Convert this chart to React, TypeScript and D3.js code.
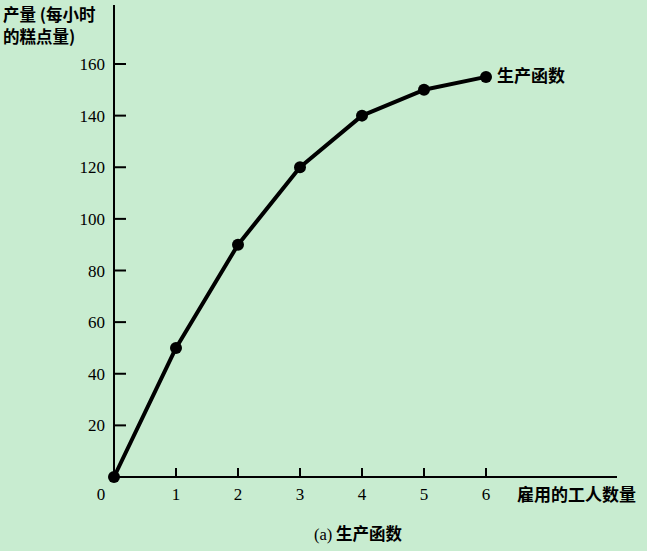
import * as d3 from 'd3';

const workers = [0, 1, 2, 3, 4, 5, 6];
const output = [0, 50, 90, 120, 140, 150, 155];
const yTicks = [20, 40, 60, 80, 100, 120, 140, 160];
const xTicks = [1, 2, 3, 4, 5, 6];

const W = 647;
const H = 551;
const cjk = '"Noto Sans CJK SC", sans-serif';
const serif = '"Liberation Serif", "DejaVu Serif", serif';

export default function App() {
  const x = d3.scaleLinear().domain([0, 6]).range([114, 486]);
  const y = d3.scaleLinear().domain([0, 160]).range([477, 64]);
  const line = d3.line<number>().x((_, i) => x(workers[i])).y(d => y(d));
  const x0 = x(0);
  const y0 = y(0);

  return (
    <svg width={W} height={H} style={{ position: 'absolute', left: 0, top: 0, background: '#c8ecd0' }}>
      <rect width={W} height={H} fill="#c8ecd0" />
      {/* axes */}
      <line x1={x0} x2={x0} y1={5} y2={y0 + 1} stroke="#000" strokeWidth={2} />
      <line x1={x0 - 1} x2={617} y1={y0} y2={y0} stroke="#000" strokeWidth={2} />
      {yTicks.map(t => (
        <g key={t}>
          <line x1={x0} x2={x0 + 12} y1={y(t)} y2={y(t)} stroke="#000" strokeWidth={2} />
          <text x={105} y={y(t) + 6} textAnchor="end" fontFamily={serif} fontSize={17}>{t}</text>
        </g>
      ))}
      {xTicks.map(t => (
        <g key={t}>
          <line x1={x(t)} x2={x(t)} y1={y0} y2={y0 - 9} stroke="#000" strokeWidth={2} />
          <text x={x(t)} y={500} textAnchor="middle" fontFamily={serif} fontSize={17}>{t}</text>
        </g>
      ))}
      <text x={101} y={500} textAnchor="middle" fontFamily={serif} fontSize={17}>0</text>
      {/* curve */}
      <path d={line(output) || ''} fill="none" stroke="#000" strokeWidth={4} strokeLinejoin="round" />
      {output.map((v, i) => (
        <circle key={i} cx={x(workers[i])} cy={y(v)} r={6} fill="#000" />
      ))}
      {/* labels */}
      <text x={497} y={82} fontFamily={cjk} fontSize={17} fontWeight="bold">生产函数</text>
      <text x={3} y={21} fontFamily={cjk} fontSize={16.5} fontWeight="bold">产量 (每小时</text>
      <text x={3} y={43} fontFamily={cjk} fontSize={16.5} fontWeight="bold">的糕点量)</text>
      <text x={517} y={501} fontFamily={cjk} fontSize={17} fontWeight="bold">雇用的工人数量</text>
      <text x={358} y={540} textAnchor="middle" fontFamily={cjk} fontSize={16.5} fontWeight="bold">
        <tspan fontFamily={serif} fontWeight="normal">(a)</tspan> 生产函数
      </text>
    </svg>
  );
}
